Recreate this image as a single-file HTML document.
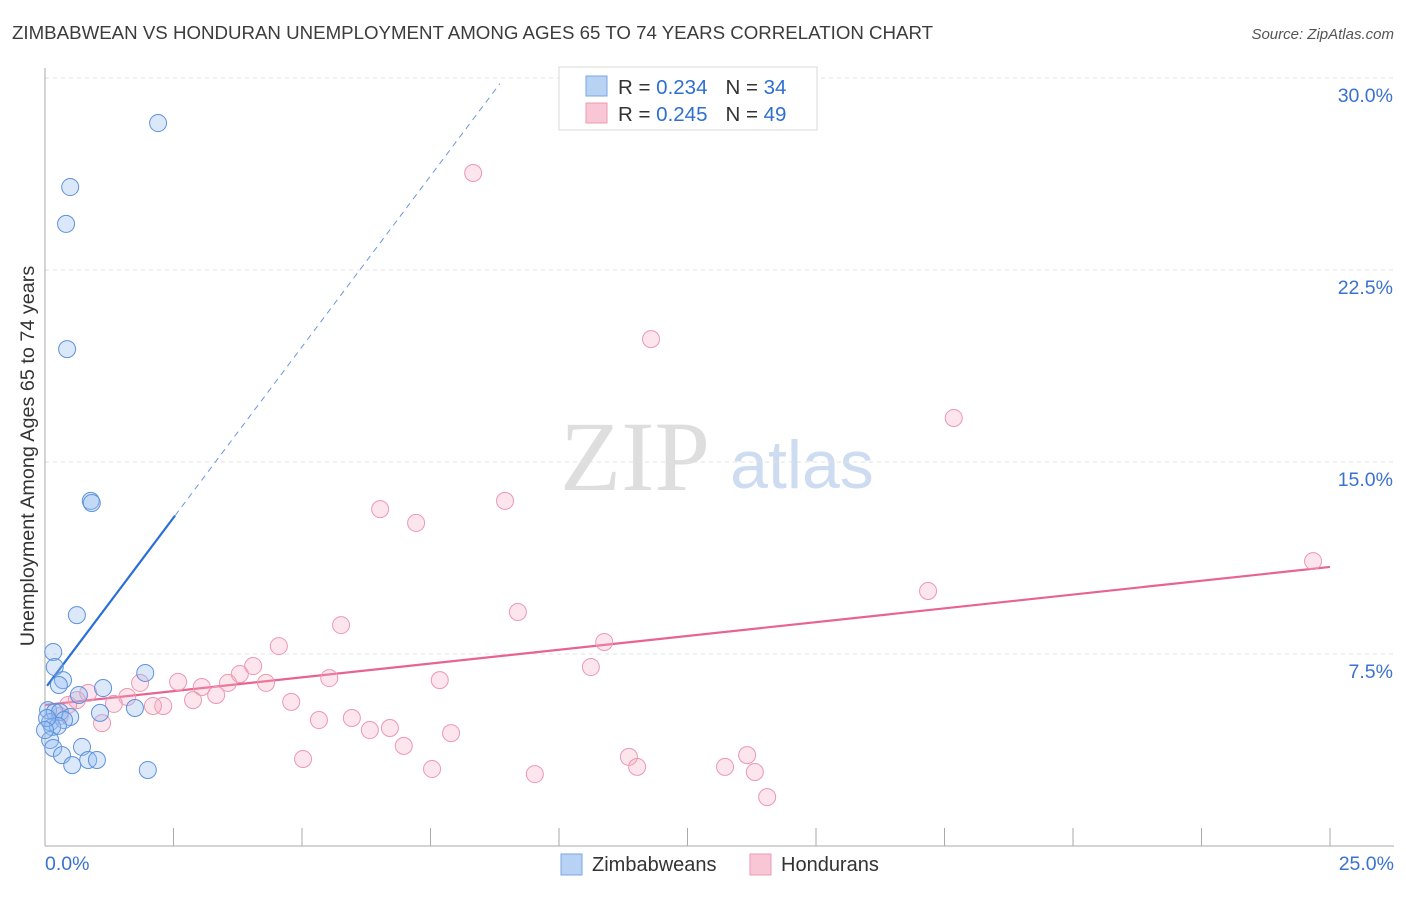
<!DOCTYPE html>
<html><head><meta charset="utf-8"><style>
body{margin:0;background:#fff;font-family:"Liberation Sans",sans-serif}
</style></head><body>
<svg id="chart" width="1406" height="892" xmlns="http://www.w3.org/2000/svg" font-family="Liberation Sans, sans-serif">
<text x="12" y="39" font-size="18.7" fill="#3c3c3c">ZIMBABWEAN VS HONDURAN UNEMPLOYMENT AMONG AGES 65 TO 74 YEARS CORRELATION CHART</text>
<text x="1394" y="39" font-size="15" fill="#555" text-anchor="end" font-style="italic">Source: ZipAtlas.com</text>
<g>
<text x="635" y="490" font-size="100" fill="#dedede" text-anchor="middle" style="font-family:'Liberation Serif',serif">ZIP</text>
<text x="802" y="488" font-size="68" fill="#cddcf1" text-anchor="middle">atlas</text>
</g>
<g id="grid"></g>
<g id="axes"></g>
<g id="lines"></g>
<g id="points"></g>
<g>
<rect x="559" y="67" width="258" height="63" fill="#fff" stroke="#d8d8d8"/>
<rect x="586" y="76" width="21" height="20" fill="#b8d2f4" stroke="#7aa6e0"/>
<text x="618" y="94" font-size="20.5" fill="#333">R = <tspan fill="#2f6fd1">0.234</tspan><tspan dx="18">N = </tspan><tspan fill="#2f6fd1">34</tspan></text>
<rect x="586" y="103" width="21" height="20" fill="#f8c6d4" stroke="#ec9ab2"/>
<text x="618" y="121" font-size="20.5" fill="#333">R = <tspan fill="#2f6fd1">0.245</tspan><tspan dx="18">N = </tspan><tspan fill="#2f6fd1">49</tspan></text>
</g>
<g>
<rect x="561" y="854" width="21" height="21" fill="#b8d2f4" stroke="#7aa6e0"/>
<text x="592" y="871" font-size="20" fill="#333">Zimbabweans</text>
<rect x="750" y="854" width="21" height="21" fill="#f8c6d4" stroke="#ec9ab2"/>
<text x="781" y="871" font-size="20" fill="#333">Hondurans</text>
</g>
<text transform="translate(34,456) rotate(-90)" font-size="19.8" fill="#333" text-anchor="middle">Unemployment Among Ages 65 to 74 years</text>
</svg>
<script>
const yTicks=[7.5,15,22.5,30];
const yTickLabels=["7.5%","15.0%","22.5%","30.0%"];
const xTicks=[0,2.5,5,7.5,10,12.5,15,17.5,20,22.5,25];
const zimX=[2.20,0.49,0.41,0.43,0.89,0.91,0.62,0.16,0.19,0.35,0.27,1.95,1.13,0.66,1.07,1.75,0.06,0.19,0.29,0.49,0.10,0.37,0.14,0.25,0.04,0.10,0.16,0.72,0.33,0.53,0.84,1.01,2.00,0.0];
const zimY=[28.24,25.74,24.30,19.41,13.48,13.40,9.02,7.58,6.99,6.48,6.29,6.76,6.17,5.90,5.20,5.39,5.31,5.23,5.23,5.04,4.84,4.92,4.65,4.69,5.0,4.14,3.83,3.87,3.55,3.16,3.36,3.36,2.97,4.53];
const honX=[8.33,11.79,17.68,8.95,6.52,7.22,24.67,17.18,9.20,5.76,10.88,4.55,10.62,4.05,3.79,5.53,7.68,4.30,2.59,1.85,3.56,3.05,3.33,1.60,0.84,0.62,2.88,2.30,2.10,1.34,4.79,5.33,5.97,6.71,6.32,7.90,6.98,5.02,11.36,13.66,11.52,13.23,13.81,7.53,9.53,14.05,1.11,0.45,0.29];
const honY=[26.29,19.80,16.72,13.48,13.16,12.62,11.13,9.96,9.14,8.63,7.97,7.81,6.99,7.03,6.72,6.56,6.48,6.37,6.41,6.37,6.37,6.21,5.90,5.82,5.98,5.70,5.70,5.47,5.47,5.55,5.63,4.92,5.0,4.61,4.53,4.41,3.91,3.40,3.48,3.55,3.09,3.09,2.89,3.01,2.81,1.91,4.80,5.51,5.08];
const zimTrend=[6.15,2.67]; // intercept, slope
const honTrend=[5.51,0.2156];
const NS="http://www.w3.org/2000/svg";
const X=v=>45+v*51.4, Y=v=>846-v*25.6;
function mk(tag,attrs,parent){const e=document.createElementNS(NS,tag);for(const k in attrs)e.setAttribute(k,attrs[k]);document.getElementById(parent).appendChild(e);return e;}
yTicks.forEach((t,i)=>{
 const g=mk('line',{x1:45,x2:1394,y1:Y(t),y2:Y(t),stroke:'#e2e2e2','stroke-dasharray':'4,4'},'grid');
 
 
 const tx=mk('text',{x:1393,y:Y(t)+24,'font-size':19.5,fill:'#3a72d0','text-anchor':'end'},'axes');
 tx.textContent=yTickLabels[i];
 
 
});
const ax=mk('line',{x1:45,x2:45,y1:68,y2:846,stroke:'#aaa'},'axes');


const bx=mk('line',{x1:45,x2:1394,y1:846,y2:846,stroke:'#aaa'},'axes');


xTicks.forEach(t=>{const l=mk('line',{x1:X(t),x2:X(t),y1:828,y2:846,stroke:'#aaa'},'axes');
 
 });
[[0,'0.0%','start',45],[25,'25.0%','end',1394]].forEach(a=>{const t=mk('text',{x:a[3],y:870,'font-size':19.5,fill:'#3a72d0','text-anchor':a[2]},'axes');t.textContent=a[1];
 
 });
const zx1=0.04,zx2=2.53,zx3=8.85;
let l1=mk('line',{x1:X(zx1),y1:Y(zimTrend[0]+zimTrend[1]*zx1),x2:X(zx2),y2:Y(zimTrend[0]+zimTrend[1]*zx2),stroke:'#2b6fd6','stroke-width':2.2},'lines');


let l2=mk('line',{x1:X(zx2),y1:Y(zimTrend[0]+zimTrend[1]*zx2),x2:X(zx3),y2:Y(zimTrend[0]+zimTrend[1]*zx3),stroke:'#6a95dd','stroke-width':1,'stroke-dasharray':'6,5'},'lines');


let l3=mk('line',{x1:X(0),y1:Y(honTrend[0]),x2:X(25),y2:Y(honTrend[0]+honTrend[1]*25),stroke:'#e8638f','stroke-width':2.2},'lines');


honX.forEach((x,i)=>{const c=mk('circle',{cx:X(x),cy:Y(honY[i]),r:8.5,fill:'rgba(244,170,192,0.3)',stroke:'#ec98b2','stroke-width':1},'points');
 
 });
zimX.forEach((x,i)=>{const c=mk('circle',{cx:X(x),cy:Y(zimY[i]),r:8.5,fill:'rgba(150,190,240,0.35)',stroke:'#5e92dc','stroke-width':1},'points');
 
 });
</script>
</body></html>
